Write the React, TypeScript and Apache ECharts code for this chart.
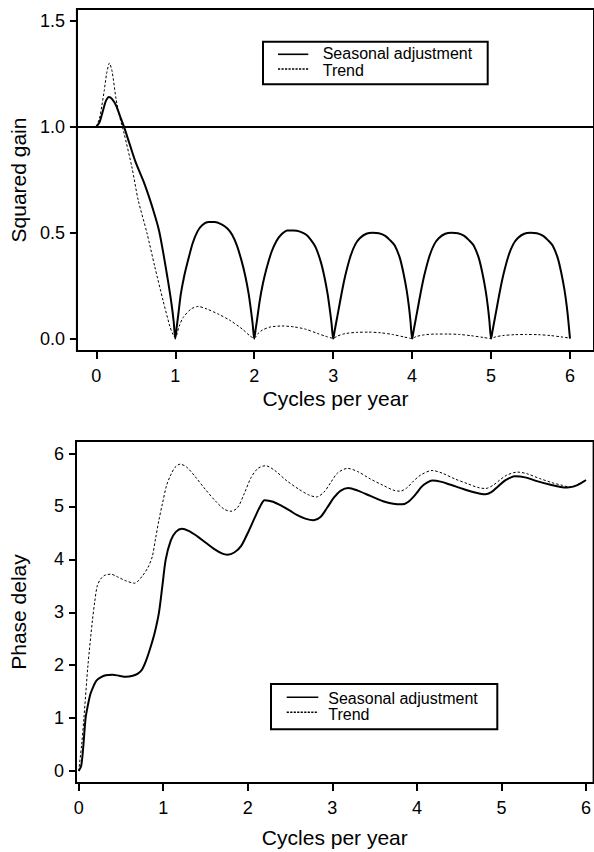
import React, { useEffect, useRef } from "react";
import * as echarts from "echarts";

// ---------- data ----------
const xTicks = [0, 1, 2, 3, 4, 5, 6];
const gainTicks = [0, 0.5, 1.0, 1.5];
const phaseTicks = [0, 1, 2, 3, 4, 5, 6];
const seriesNames = ["Seasonal adjustment", "Trend"];
const xTitle = "Cycles per year";
const gainTitle = "Squared gain";
const phaseTitle = "Phase delay";
const unitGain = 1.0;

const seasonalGainX = [
  0, 0.04, 0.08, 0.12, 0.16, 0.2, 0.25, 0.3, 0.35, 0.42, 0.5, 0.6, 0.68, 0.75, 0.8, 0.85, 0.9, 0.95, 0.98, 1.0,
  1.02, 1.04, 1.07, 1.11, 1.155, 1.22, 1.28, 1.34, 1.42, 1.5, 1.58, 1.66, 1.72, 1.78, 1.845, 1.89, 1.93, 1.96, 1.98, 2.0,
  2.02, 2.04, 2.07, 2.11, 2.155, 2.22, 2.28, 2.34, 2.42, 2.5, 2.58, 2.66, 2.72, 2.78, 2.845, 2.89, 2.93, 2.96, 2.98, 3.0,
  3.02, 3.04, 3.07, 3.11, 3.155, 3.22, 3.28, 3.34, 3.42, 3.5, 3.58, 3.66, 3.72, 3.78, 3.845, 3.89, 3.93, 3.96, 3.98, 4.0,
  4.02, 4.04, 4.07, 4.11, 4.155, 4.22, 4.28, 4.34, 4.42, 4.5, 4.58, 4.66, 4.72, 4.78, 4.845, 4.89, 4.93, 4.96, 4.98, 5.0,
  5.02, 5.04, 5.07, 5.11, 5.155, 5.22, 5.28, 5.34, 5.42, 5.5, 5.58, 5.66, 5.72, 5.78, 5.845, 5.89, 5.93, 5.96, 5.98, 6.0,
];
const seasonalGainY = [
  1.0, 1.02, 1.07, 1.12, 1.14, 1.13, 1.1, 1.05, 1.0, 0.92, 0.83, 0.74, 0.655, 0.57, 0.5, 0.4, 0.29, 0.17, 0.08, 0.0,
  0.06, 0.12, 0.21, 0.29, 0.36, 0.45, 0.505, 0.535, 0.55, 0.55, 0.54, 0.52, 0.49, 0.44, 0.36, 0.29, 0.21, 0.13, 0.07, 0.0,
  0.05, 0.1, 0.18, 0.26, 0.33, 0.41, 0.46, 0.49, 0.51, 0.51, 0.505, 0.49, 0.465, 0.43, 0.36, 0.29, 0.21, 0.13, 0.07, 0.0,
  0.04, 0.08, 0.14, 0.22, 0.3, 0.39, 0.445, 0.475, 0.495, 0.5, 0.497, 0.485, 0.465, 0.44, 0.38, 0.31, 0.23, 0.15, 0.08, 0.0,
  0.04, 0.08, 0.14, 0.22, 0.3, 0.39, 0.445, 0.475, 0.495, 0.5, 0.497, 0.485, 0.465, 0.44, 0.38, 0.31, 0.23, 0.15, 0.08, 0.0,
  0.04, 0.08, 0.14, 0.22, 0.3, 0.39, 0.445, 0.475, 0.495, 0.5, 0.497, 0.485, 0.465, 0.44, 0.38, 0.31, 0.23, 0.15, 0.08, 0.0,
];

const trendGainX = [
  0, 0.04, 0.07, 0.1, 0.13, 0.166, 0.2, 0.25, 0.3, 0.35, 0.45, 0.53, 0.64, 0.74, 0.845, 0.93, 0.97, 1.0,
  1.05, 1.1, 1.2, 1.29, 1.4, 1.55, 1.7, 1.85, 1.95, 2.0,
  2.05, 2.1, 2.2, 2.35, 2.5, 2.65, 2.8, 2.9, 3.0,
  3.05, 3.15, 3.3, 3.45, 3.6, 3.75, 3.9, 4.0,
  4.05, 4.15, 4.3, 4.45, 4.6, 4.75, 4.9, 5.0,
  5.05, 5.15, 5.3, 5.45, 5.6, 5.75, 5.9, 6.0,
];
const trendGainY = [
  1.0, 1.04, 1.1, 1.17, 1.25, 1.3, 1.26, 1.13, 1.04, 0.97, 0.81, 0.654, 0.5, 0.34, 0.18, 0.06, 0.02, 0.005,
  0.06, 0.1, 0.14, 0.152, 0.14, 0.115, 0.085, 0.045, 0.012, 0.003,
  0.025, 0.04, 0.055, 0.06, 0.056, 0.045, 0.025, 0.012, 0.002,
  0.012, 0.024, 0.03, 0.031, 0.028, 0.02, 0.008, 0.001,
  0.01, 0.018, 0.022, 0.022, 0.02, 0.014, 0.006, 0.001,
  0.008, 0.015, 0.019, 0.02, 0.019, 0.015, 0.008, 0.003,
];

const seasonalPhaseX = [
  0, 0.03, 0.054, 0.082, 0.11, 0.14, 0.18, 0.21, 0.26, 0.32, 0.4, 0.48, 0.56, 0.64, 0.7, 0.75, 0.8, 0.85, 0.9, 0.95,
  0.99, 1.03, 1.09, 1.15, 1.22, 1.3, 1.4, 1.5, 1.6, 1.7, 1.76, 1.84, 1.92, 2.0, 2.08, 2.14, 2.2,
  2.3, 2.4, 2.5, 2.58, 2.68, 2.78, 2.86, 2.94, 3.02, 3.1, 3.19, 3.3, 3.45, 3.6, 3.72, 3.83, 3.9, 3.98,
  4.06, 4.12, 4.18, 4.28, 4.4, 4.55, 4.7, 4.81, 4.88, 4.96, 5.04, 5.1, 5.16, 5.28, 5.42, 5.58, 5.7, 5.78,
  5.86, 5.94, 6.0,
];
const seasonalPhaseY = [
  0, 0.1, 0.45, 1.0, 1.25, 1.46, 1.62, 1.71, 1.77, 1.81, 1.82, 1.8, 1.78, 1.8, 1.84, 1.92, 2.1, 2.34, 2.62, 3.0,
  3.5, 4.0, 4.36, 4.52, 4.58, 4.54, 4.44, 4.32, 4.2, 4.11, 4.09, 4.13, 4.25, 4.5, 4.78, 4.98, 5.12,
  5.09, 5.01, 4.92, 4.84, 4.77, 4.74, 4.8, 4.98, 5.17, 5.3, 5.35, 5.3, 5.2, 5.1, 5.05, 5.04, 5.09, 5.22,
  5.38, 5.45, 5.49, 5.47, 5.41, 5.33, 5.26, 5.23, 5.27, 5.38, 5.49, 5.54, 5.57, 5.55, 5.48, 5.41, 5.37, 5.36,
  5.38, 5.44, 5.5,
];

const trendPhaseX = [
  0, 0.035, 0.062, 0.11, 0.163, 0.19, 0.22, 0.26, 0.31, 0.38, 0.46, 0.55, 0.66, 0.75, 0.82, 0.87, 0.91, 0.95,
  0.99, 1.04, 1.09, 1.14, 1.2, 1.28, 1.38, 1.5, 1.62, 1.72, 1.8, 1.88, 1.96, 2.04, 2.12, 2.21,
  2.32, 2.45, 2.6, 2.72, 2.81, 2.9, 2.98, 3.06, 3.18, 3.3, 3.45, 3.6, 3.72, 3.8, 3.88, 3.96,
  4.05, 4.18, 4.3, 4.45, 4.6, 4.72, 4.81, 4.9, 4.98, 5.06, 5.19, 5.3, 5.45, 5.6, 5.72, 5.8, 5.88, 5.95, 6.0,
];
const trendPhaseY = [
  0, 0.49, 1.0, 2.0, 2.85, 3.2, 3.5, 3.63, 3.7, 3.72, 3.67, 3.6, 3.55, 3.68, 3.85, 4.05, 4.4, 4.75,
  5.05, 5.4, 5.6, 5.74, 5.8, 5.74, 5.56, 5.32, 5.1, 4.95, 4.91, 4.98, 5.25, 5.55, 5.72, 5.77,
  5.68, 5.5, 5.33, 5.22, 5.18, 5.27, 5.45, 5.63, 5.72, 5.66, 5.52, 5.4, 5.31, 5.29, 5.35, 5.48,
  5.6, 5.68, 5.63, 5.52, 5.43, 5.36, 5.34, 5.4, 5.5, 5.59, 5.65, 5.62, 5.53, 5.45, 5.4, 5.37, 5.4, 5.46, 5.5,
];

const zip = (xs: number[], ys: number[]) => xs.map((x, i) => [x, ys[i]]);

const FONT = "'Liberation Sans', Arial, Helvetica, sans-serif";
const BLACK = "#000";

function makeXAxis(gridIndex: number, min: number, max: number, nameGap: number) {
  return {
    type: "value",
    gridIndex,
    min,
    max,
    name: xTitle,
    nameLocation: "middle",
    nameGap,
    nameTextStyle: { fontSize: 21, color: BLACK, fontFamily: FONT },
    axisLine: { show: true, onZero: false, lineStyle: { color: BLACK, width: 2 } },
    axisTick: { show: true, customValues: xTicks, length: 8, lineStyle: { color: BLACK, width: 2 } },
    axisLabel: { customValues: xTicks, fontSize: 18, color: BLACK, fontFamily: FONT, margin: 16 },
    splitLine: { show: false },
  };
}

function makeYAxis(gridIndex: number, min: number, max: number, ticks: number[], name: string, fmt: (v: number) => string) {
  return {
    type: "value",
    gridIndex,
    min,
    max,
    name,
    nameLocation: "middle",
    nameGap: 47,
    nameTextStyle: { fontSize: 21, color: BLACK, fontFamily: FONT },
    axisLine: { show: true, onZero: false, lineStyle: { color: BLACK, width: 2 } },
    axisTick: { show: true, customValues: ticks, length: 7, lineStyle: { color: BLACK, width: 2 } },
    axisLabel: { customValues: ticks, fontSize: 18, color: BLACK, fontFamily: FONT, margin: 12, formatter: fmt },
    splitLine: { show: false },
  };
}

function legendGraphics(box: number[], lineX: number[], lineY: number[], textX: number, textY: number[]) {
  const [bx, by, bw, bh] = box;
  return [
    {
      type: "rect",
      shape: { x: bx, y: by, width: bw, height: bh },
      style: { fill: "#fff", stroke: BLACK, lineWidth: 2 },
      z: 10,
    },
    {
      type: "line",
      shape: { x1: lineX[0], y1: lineY[0], x2: lineX[1], y2: lineY[0] },
      style: { stroke: BLACK, lineWidth: 1.6 },
      z: 11,
    },
    {
      type: "line",
      shape: { x1: lineX[0], y1: lineY[1], x2: lineX[1], y2: lineY[1] },
      style: { stroke: BLACK, lineWidth: 1.6, lineDash: [2.2, 1.3] },
      z: 11,
    },
    {
      type: "text",
      x: textX,
      y: textY[0],
      style: { text: seriesNames[0], fill: BLACK, fontSize: 16, fontFamily: FONT, align: "left", verticalAlign: "middle" },
      z: 11,
    },
    {
      type: "text",
      x: textX,
      y: textY[1],
      style: { text: seriesNames[1], fill: BLACK, fontSize: 16, fontFamily: FONT, align: "left", verticalAlign: "middle" },
      z: 11,
    },
  ];
}

export default function App() {
  const ref = useRef<HTMLDivElement>(null);
  useEffect(() => {
    if (!ref.current) return;
    const chart = echarts.init(ref.current, undefined, { renderer: "svg" });
    const solid = { color: BLACK, width: 2 };
    const dashed = { color: BLACK, width: 1, type: [2.5, 2] as any };
    const option: any = {
      animation: false,
      backgroundColor: "#fff",
      textStyle: { fontFamily: FONT },
      grid: [
        { left: 76, top: 9, width: 524, height: 342, show: true, borderColor: BLACK, borderWidth: 2, backgroundColor: "transparent" },
        { left: 76, top: 441, width: 524, height: 342, show: true, borderColor: BLACK, borderWidth: 2, backgroundColor: "transparent" },
      ],
      xAxis: [makeXAxis(0, -0.246, 6.304, 37), makeXAxis(1, -0.0315, 6.09, 44)],
      yAxis: [
        makeYAxis(0, -0.058, 1.555, gainTicks, gainTitle, (v: number) => v.toFixed(1)),
        makeYAxis(1, -0.227, 6.238, phaseTicks, phaseTitle, (v: number) => String(Math.round(v))),
      ],
      series: [
        {
          name: seriesNames[0],
          type: "line",
          xAxisIndex: 0,
          yAxisIndex: 0,
          data: zip(seasonalGainX, seasonalGainY),
          showSymbol: false,
          symbol: "none",
          smooth: 0.25,
          lineStyle: solid,
          markLine: {
            silent: true,
            symbol: "none",
            label: { show: false },
            lineStyle: { color: BLACK, width: 1.8, type: "solid" },
            data: [{ yAxis: unitGain }],
          },
        },
        {
          name: seriesNames[1],
          type: "line",
          xAxisIndex: 0,
          yAxisIndex: 0,
          data: zip(trendGainX, trendGainY),
          showSymbol: false,
          symbol: "none",
          smooth: 0.25,
          lineStyle: dashed,
        },
        {
          name: seriesNames[0],
          type: "line",
          xAxisIndex: 1,
          yAxisIndex: 1,
          data: zip(seasonalPhaseX, seasonalPhaseY),
          showSymbol: false,
          symbol: "none",
          smooth: 0.3,
          lineStyle: solid,
        },
        {
          name: seriesNames[1],
          type: "line",
          xAxisIndex: 1,
          yAxisIndex: 1,
          data: zip(trendPhaseX, trendPhaseY),
          showSymbol: false,
          symbol: "none",
          smooth: 0.3,
          lineStyle: dashed,
        },
      ],
      graphic: [
        ...legendGraphics([263, 41.7, 224.7, 42.6], [278, 308.3], [54.3, 69], 322.7, [53.5, 70.5]),
        ...legendGraphics([271, 684, 226.3, 45.3], [286.7, 318.3], [697.3, 712.3], 328.3, [698, 714.5]),
      ],
    };
    chart.setOption(option);
    return () => chart.dispose();
  }, []);
  return (
    <div
      ref={ref}
      style={{ position: "absolute", left: 0, top: 0, width: 594, height: 852, background: "#fff" }}
    />
  );
}
